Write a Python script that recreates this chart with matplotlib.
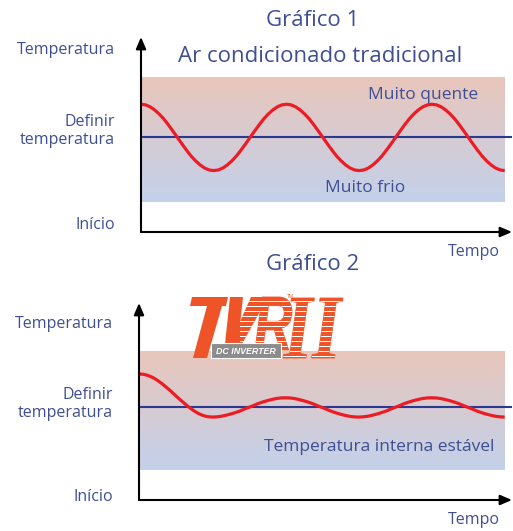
import matplotlib
matplotlib.use("Agg")
import matplotlib.pyplot as plt
import numpy as np
from matplotlib.colors import LinearSegmentedColormap
from matplotlib.textpath import TextPath
from matplotlib.font_manager import FontProperties
from matplotlib.patches import PathPatch, Rectangle, Polygon
from matplotlib.transforms import Affine2D

plt.rcParams["font.family"] = ["Open Sans", "DejaVu Sans"]

# --- data (time 0..10, temperature in arbitrary units 0..100) ---
time = np.linspace(0, 10, 81)

# Gráfico 1: traditional AC swings hard around the set point
temp_traditional = [
    65.5, 65.2, 64.2, 62.6, 60.5, 58.0, 55.0, 51.8, 48.5, 45.2, 42.0, 39.0, 36.5, 34.4, 32.8, 31.8,
    31.5, 31.8, 32.8, 34.4, 36.5, 39.0, 42.0, 45.2, 48.5, 51.8, 55.0, 58.0, 60.5, 62.6, 64.2, 65.2,
    65.5, 65.2, 64.2, 62.6, 60.5, 58.0, 55.0, 51.8, 48.5, 45.2, 42.0, 39.0, 36.5, 34.4, 32.8, 31.8,
    31.5, 31.8, 32.8, 34.4, 36.5, 39.0, 42.0, 45.2, 48.5, 51.8, 55.0, 58.0, 60.5, 62.6, 64.2, 65.2,
    65.5, 65.2, 64.2, 62.6, 60.5, 58.0, 55.0, 51.8, 48.5, 45.2, 42.0, 39.0, 36.5, 34.4, 32.8, 31.8,
    31.5]
setpoint_1 = 48.5
band_1 = (15.4, 79.0)

# Gráfico 2: inverter settles close to the set point
temp_inverter = [
    64.0, 63.8, 63.2, 62.2, 60.8, 59.1, 57.2, 55.2, 53.0, 50.9, 48.9, 47.0, 45.3, 43.9, 42.9, 42.3,
    42.1, 42.2, 42.5, 43.0, 43.6, 44.3, 45.1, 46.1, 47.0, 47.9, 48.9, 49.7, 50.4, 51.0, 51.5, 51.8,
    51.9, 51.8, 51.5, 51.0, 50.4, 49.7, 48.9, 47.9, 47.0, 46.1, 45.1, 44.3, 43.6, 43.0, 42.5, 42.2,
    42.1, 42.2, 42.5, 43.0, 43.6, 44.3, 45.1, 46.1, 47.0, 47.9, 48.9, 49.7, 50.4, 51.0, 51.5, 51.8,
    51.9, 51.8, 51.5, 51.0, 50.4, 49.7, 48.9, 47.9, 47.0, 46.1, 45.1, 44.3, 43.6, 43.0, 42.5, 42.2,
    42.1]
setpoint_2 = 47.2
band_2 = (15.2, 75.3)

TXT = "#3f4f92"
RED = "#ed1c24"
NAVY = "#2b3990"
ORANGE = "#ef5428"

W, H = 513, 531
fig = plt.figure(figsize=(W / 100, H / 100), dpi=100)

band_cmap = LinearSegmentedColormap.from_list("band", ["#c3d1eb", "#e9c6bb"])


def chart(left, right, top, bottom, temps, setpoint, band):
    ax = fig.add_axes([left / W, 1 - bottom / H, (right - left) / W, (bottom - top) / H])
    ax.set_xlim(0, 10.2)
    ax.set_ylim(0, 100)
    ax.axis("off")
    grad = np.linspace(0, 1, 256).reshape(-1, 1)
    ax.imshow(grad, cmap=band_cmap, origin="lower", aspect="auto",
              extent=[0, 10, band[0], band[1]], zorder=1)
    ax.axhline(setpoint, xmin=0, xmax=1.0, color=NAVY, lw=1.5, zorder=2)
    ax.plot(time, temps, color=RED, lw=2.3, zorder=3, solid_capstyle="butt")
    # axes with arrow heads
    arrow = dict(arrowstyle="-|>,head_length=0.7,head_width=0.3", color="black", lw=1.5,
                 shrinkA=0, shrinkB=0)
    ax.annotate("", xy=(0, 1), xytext=(0, 0), xycoords="axes fraction", arrowprops=arrow)
    ax.annotate("", xy=(1, 0), xytext=(0, 0), xycoords="axes fraction", arrowprops=arrow)
    return ax


ax1 = chart(141, 512, 37, 232, temp_traditional, setpoint_1, band_1)
ax2 = chart(139, 512, 303, 500, temp_inverter, setpoint_2, band_2)

# overlay in pixel coordinates for labels and logo
ov = fig.add_axes([0, 0, 1, 1], zorder=5)
ov.set_xlim(0, W)
ov.set_ylim(H, 0)
ov.axis("off")

lab = dict(color=TXT, fontsize=11.5, va="center")
ov.text(313, 21, "Gráfico 1", color=TXT, fontsize=16, ha="center", va="center")
ov.text(320, 57, "Ar condicionado tradicional", color=TXT, fontsize=16, ha="center", va="center")
ov.text(115, 50, "Temperatura", ha="right", **lab)
ov.text(115, 131, "Definir\ntemperatura", ha="right", multialignment="right", linespacing=1.2, **lab)
ov.text(115, 225, "Início", ha="right", **lab)
ov.text(500, 252, "Tempo", ha="right", **lab)
ov.text(423, 95, "Muito quente", ha="center", color=TXT, fontsize=12.5, va="center")
ov.text(365, 188, "Muito frio", ha="center", color=TXT, fontsize=12.5, va="center")

ov.text(313, 264, "Gráfico 2", color=TXT, fontsize=16, ha="center", va="center")
ov.text(113, 324, "Temperatura", ha="right", **lab)
ov.text(113, 404, "Definir\ntemperatura", ha="right", multialignment="right", linespacing=1.2, **lab)
ov.text(113, 497, "Início", ha="right", **lab)
ov.text(500, 520, "Tempo", ha="right", **lab)
ov.text(379, 447, "Temperatura interna estável", ha="center", color=TXT, fontsize=12.5, va="center")


# --- TVR II logo ---
def fitted_text(s, box, prop):
    path = TextPath((0, 0), s, size=1, prop=prop)
    ext = path.get_extents()
    x0, y0, x1, y1 = box
    sx = (x1 - x0) / ext.width
    sy = (y1 - y0) / ext.height
    tr = Affine2D().translate(-ext.x0, -ext.y0).scale(sx, -sy).translate(x0, y1)
    patch = PathPatch(tr.transform_path(path), facecolor=ORANGE, edgecolor=ORANGE,
                      lw=0.6, zorder=6)
    ov.add_patch(patch)
    return patch


def shape(pts):
    p = Polygon(pts, closed=True, facecolor=ORANGE, edgecolor="none", zorder=6)
    ov.add_patch(p)
    return p


# T (solid)
shape([(192, 297), (228, 297), (226, 306), (190, 306)])
shape([(207, 306), (222, 306), (207, 358), (193, 358)])
# V: left arm solid, right arm striped
shape([(230, 297), (243, 297), (238, 344), (225, 344)])
p_v = shape([(251, 297), (268, 297), (242, 344), (230, 344)])

bold_it = FontProperties(family="Liberation Sans", weight="bold", style="italic")
serif_it = FontProperties(family="Liberation Serif", weight="bold", style="italic")
p_r = fitted_text("R", (255, 297, 292, 350), bold_it)
p_ii = fitted_text("II", (283, 298, 343, 358), serif_it)

for y in np.arange(300.5, 358, 5.0):
    for p in (p_v, p_r, p_ii):
        r = Rectangle((240, y), 110, 1.7, facecolor="white", edgecolor="none", zorder=7)
        r.set_clip_path(p)
        ov.add_patch(r)

ov.add_patch(Rectangle((211, 343), 70, 15, facecolor="#8c8c8c", edgecolor="white", lw=0.8, zorder=8))
ov.text(246, 351, "DC INVERTER", color="white", fontsize=6.4, fontweight="bold", style="italic",
        family="Liberation Sans", ha="center", va="center", zorder=9)
ov.text(287, 297, "TM", color=ORANGE, fontsize=3.5, ha="left", va="center", zorder=9)

fig.savefig("out.png", dpi=100)
